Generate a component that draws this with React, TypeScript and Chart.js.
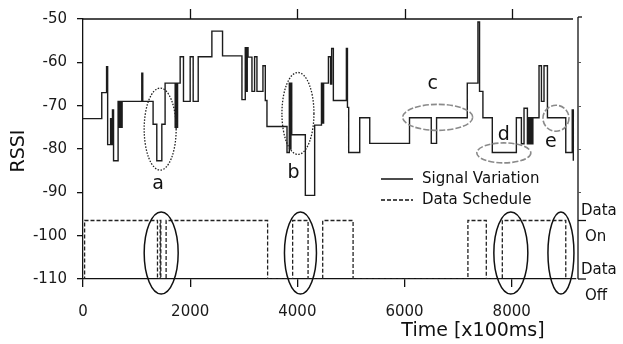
import React, { useEffect, useRef } from 'react';
import { Chart, registerables } from 'chart.js';

Chart.register(...registerables);

// ---------- data ----------
const signalTime = [0, 350, 440, 460, 515, 530, 550, 570, 655, 673, 690, 710, 730, 1097, 1115, 1308, 1377, 1471, 1532, 1720, 1735, 1750, 1765, 1813, 1875, 2000, 2056, 2150, 2405, 2604, 2966, 3028, 3050, 3065, 3080, 3153, 3202, 3246, 3358, 3402, 3433, 3807, 3850, 3865, 3880, 3895, 4149, 4323, 4450, 4470, 4490, 4580, 4620, 4640, 4672, 4915, 4935, 4958, 5164, 5351, 6093, 6499, 6598, 7171, 7370, 7400, 7463, 7638, 8087, 8181, 8230, 8293, 8310, 8330, 8350, 8370, 8395, 8510, 8555, 8603, 8667, 9009, 9130, 9150];
const signalRssi = [-73, -67, -61, -79, -73, -79, -71, -82.7, -69, -75, -69, -75, -69, -62.5, -69, -74.3, -82.7, -74.3, -64.8, -75, -64.8, -75, -64.8, -58.7, -69, -58.7, -69, -58.7, -52.8, -58.5, -68.6, -56.6, -66.7, -56.6, -58.8, -66.7, -58.7, -66.7, -60.8, -68.8, -74.8, -80.8, -64.8, -80, -64.8, -76.7, -90.7, -74.5, -64.8, -74, -64.8, -58.7, -65, -56.8, -68.8, -56.8, -70.4, -80.8, -72.8, -78.7, -72.8, -78.7, -72.8, -64.8, -50.7, -66.7, -72.8, -80.8, -72.8, -78.8, -70.6, -78.8, -72.8, -78.8, -72.8, -78.8, -72.8, -60.8, -69, -60.8, -72.8, -80.8, -71, -82.7];

const scheduleTime = [0, 30, 1390, 1440, 1452, 1551, 3445, 3912, 4200, 4473, 5040, 7183, 7526, 7825, 9009, 9200];
const scheduleOn = [0, 1, 0, 1, 0, 1, 0, 1, 0, 1, 0, 1, 0, 1, 0, 0];
const dataOnLevel = -96.5;
const dataOffLevel = -110;

const xTicks = [0, 2000, 4000, 6000, 8000];
const yTicks = [-110, -100, -90, -80, -70, -60, -50];
const rightMinorTicks = [-60, -70, -80, -90];
const xMin = 0;
const xMax = 9200;
const yMin = -110;
const yMax = -50;

const rightTickValues = [dataOnLevel, dataOffLevel];
const rightTickLabels = [['Data', 'On'], ['Data', 'Off']];

const seriesLabels = ['Signal Variation', 'Data Schedule'];
const xTitle = 'Time [x100ms]';
const yTitle = 'RSSI';

// annotation ellipses (center in data units)
const dottedNames = ['a', 'b'];
const dottedT = [1440, 4011];
const dottedV = [-75.4, -71.8];
const grayNames = ['c', 'd', 'e'];
const grayT = [6619, 7853, 8826];
const grayV = [-72.7, -80.9, -72.9];
const solidT = [1459, 4058, 7984, 8919];
const solidV = [-104, -104, -104, -104];
const letterNames = ['a', 'b', 'c', 'd', 'e'];
const letterT = [1402, 3927, 6526, 7853, 8732];
const letterV = [-88.2, -85.5, -65.1, -76.8, -78.4];

const FONT = "'DejaVu Sans', sans-serif";

export default function App() {
  const canvasRef = useRef<HTMLCanvasElement | null>(null);

  useEffect(() => {
    const canvas = canvasRef.current;
    if (!canvas) return;

    const signalData = signalTime.map((t, i) => ({ x: t, y: signalRssi[i] }));
    const scheduleData = scheduleTime.map((t, i) => ({ x: t, y: scheduleOn[i] ? dataOnLevel : dataOffLevel }));

    const overlay = {
      id: 'overlay',
      afterDraw(chart: any) {
        const ctx = chart.ctx as CanvasRenderingContext2D;
        const xs = chart.scales.x;
        const ys = chart.scales.y;
        const a = chart.chartArea;
        ctx.save();
        ctx.strokeStyle = '#111';
        ctx.lineWidth = 1.3;
        // top frame
        ctx.beginPath();
        ctx.moveTo(a.left, a.top);
        ctx.lineTo(a.right - 3, a.top);
        ctx.stroke();
        // top ticks (outward)
        xTicks.forEach((v) => {
          if (v === xMin) return;
          const px = Math.round(xs.getPixelForValue(v)) + 0.5;
          ctx.beginPath();
          ctx.moveTo(px, a.top);
          ctx.lineTo(px, a.top - 10);
          ctx.stroke();
        });
        // right axis
        const rx = a.right + 2;
        ctx.beginPath();
        ctx.moveTo(rx, a.top - 2);
        ctx.lineTo(rx, a.bottom);
        ctx.stroke();
        ctx.beginPath();
        ctx.moveTo(rx, a.top - 2);
        ctx.lineTo(rx + 4, a.top - 2);
        ctx.stroke();
        ctx.lineWidth = 1;
        ctx.strokeStyle = '#555';
        rightMinorTicks.forEach((v) => {
          const py = Math.round(ys.getPixelForValue(v)) + 0.5;
          ctx.beginPath();
          ctx.moveTo(rx, py);
          ctx.lineTo(rx + 3, py);
          ctx.stroke();
        });
        ctx.lineWidth = 1.3;
        ctx.strokeStyle = '#111';
        ctx.font = `15px ${FONT}`;
        ctx.fillStyle = '#111';
        ctx.textAlign = 'left';
        ctx.textBaseline = 'middle';
        rightTickValues.forEach((v, i) => {
          const py = ys.getPixelForValue(v);
          ctx.beginPath();
          ctx.moveTo(rx, py);
          ctx.lineTo(rx + 8, py);
          ctx.stroke();
          ctx.fillText(rightTickLabels[i][0], rx + 3, py - 9);
          ctx.fillText(rightTickLabels[i][1], rx + 7, py + 17);
        });

        // dotted ellipses
        ctx.lineWidth = 1.3;
        ctx.strokeStyle = '#222';
        ctx.setLineDash([1.5, 1.5]);
        dottedNames.forEach((_, i) => {
          ctx.beginPath();
          ctx.ellipse(xs.getPixelForValue(dottedT[i]), ys.getPixelForValue(dottedV[i]), 16, 41, 0, 0, Math.PI * 2);
          ctx.stroke();
        });
        // gray ellipses
        ctx.strokeStyle = '#8a8a8a';
        ctx.lineWidth = 1.6;
        ctx.setLineDash([6, 2]);
        const grayR = [[35, 13], [27, 10], [13, 13]];
        grayNames.forEach((_, i) => {
          ctx.beginPath();
          ctx.ellipse(xs.getPixelForValue(grayT[i]), ys.getPixelForValue(grayV[i]), grayR[i][0], grayR[i][1], 0, 0, Math.PI * 2);
          ctx.stroke();
        });
        // solid ellipses around schedule
        ctx.setLineDash([]);
        ctx.strokeStyle = '#111';
        ctx.lineWidth = 1.5;
        const solidR = [[17, 41], [16, 41], [17, 41], [13, 41]];
        solidT.forEach((t, i) => {
          ctx.beginPath();
          ctx.ellipse(xs.getPixelForValue(t), ys.getPixelForValue(solidV[i]), solidR[i][0], solidR[i][1], 0, 0, Math.PI * 2);
          ctx.stroke();
        });
        // letters
        ctx.font = `19px ${FONT}`;
        ctx.textAlign = 'center';
        ctx.textBaseline = 'middle';
        letterNames.forEach((n, i) => {
          ctx.fillText(n, xs.getPixelForValue(letterT[i]), ys.getPixelForValue(letterV[i]));
        });

        // legend
        ctx.font = `15px ${FONT}`;
        ctx.textAlign = 'left';
        const lx = 381;
        const ly = [179, 200];
        ctx.strokeStyle = '#111';
        ctx.lineWidth = 1.5;
        ctx.beginPath();
        ctx.moveTo(lx, ly[0]);
        ctx.lineTo(lx + 32, ly[0]);
        ctx.stroke();
        ctx.setLineDash([4, 2]);
        ctx.beginPath();
        ctx.moveTo(lx, ly[1]);
        ctx.lineTo(lx + 32, ly[1]);
        ctx.stroke();
        ctx.setLineDash([]);
        ctx.fillText(seriesLabels[0], lx + 41, ly[0]);
        ctx.fillText(seriesLabels[1], lx + 41, ly[1]);

        // axis titles
        ctx.font = `19px ${FONT}`;
        ctx.textAlign = 'center';
        ctx.fillText(xTitle, 473, 331);
        ctx.save();
        ctx.translate(19, 151);
        ctx.rotate(-Math.PI / 2);
        ctx.fillText(yTitle, 0, 0);
        ctx.restore();
        ctx.restore();
      },
    };

    const chart = new Chart(canvas, {
      type: 'line',
      data: {
        datasets: [
          {
            label: seriesLabels[0],
            data: signalData,
            stepped: 'before',
            borderColor: '#1c1c1c',
            borderWidth: 1.4,
            pointRadius: 0,
            fill: false,
          },
          {
            label: seriesLabels[1],
            data: scheduleData,
            stepped: 'before',
            borderColor: '#222',
            borderWidth: 1.3,
            borderDash: [4, 2],
            pointRadius: 0,
            fill: false,
          },
        ],
      },
      options: {
        animation: false,
        responsive: false,
        devicePixelRatio: 1,
        layout: { padding: { top: 17, right: 47, left: 0, bottom: 0 } },
        plugins: { legend: { display: false }, tooltip: { enabled: false } },
        scales: {
          x: {
            type: 'linear',
            min: xMin,
            max: xMax,
            afterBuildTicks: (s: any) => { s.ticks = xTicks.map((v) => ({ value: v })); },
            afterFit: (s: any) => { s.height = 65; },
            ticks: { font: { family: FONT, size: 15 }, color: '#1a1a1a', padding: 16, maxRotation: 0, callback: (v: any) => String(v) },
            grid: { drawOnChartArea: false, drawTicks: true, tickLength: 8, color: '#111', lineWidth: 1.3 },
            border: { display: true, color: '#111', width: 1.3 },
          },
          y: {
            type: 'linear',
            min: yMin,
            max: yMax,
            afterBuildTicks: (s: any) => { s.ticks = yTicks.map((v) => ({ value: v })); },
            afterFit: (s: any) => { s.width = 83; },
            ticks: { font: { family: FONT, size: 15 }, color: '#1a1a1a', padding: 10, callback: (v: any) => String(v) },
            grid: { drawOnChartArea: false, drawTicks: true, tickLength: 6, color: '#111', lineWidth: 1.3 },
            border: { display: true, color: '#111', width: 1.3 },
          },
        },
      },
      plugins: [overlay],
    });

    return () => chart.destroy();
  }, []);

  return (
    <div style={{ position: 'fixed', left: 0, top: 0, width: 623, height: 344, background: '#fff' }}>
      <canvas ref={canvasRef} width={623} height={344} style={{ display: 'block' }} />
    </div>
  );
}
